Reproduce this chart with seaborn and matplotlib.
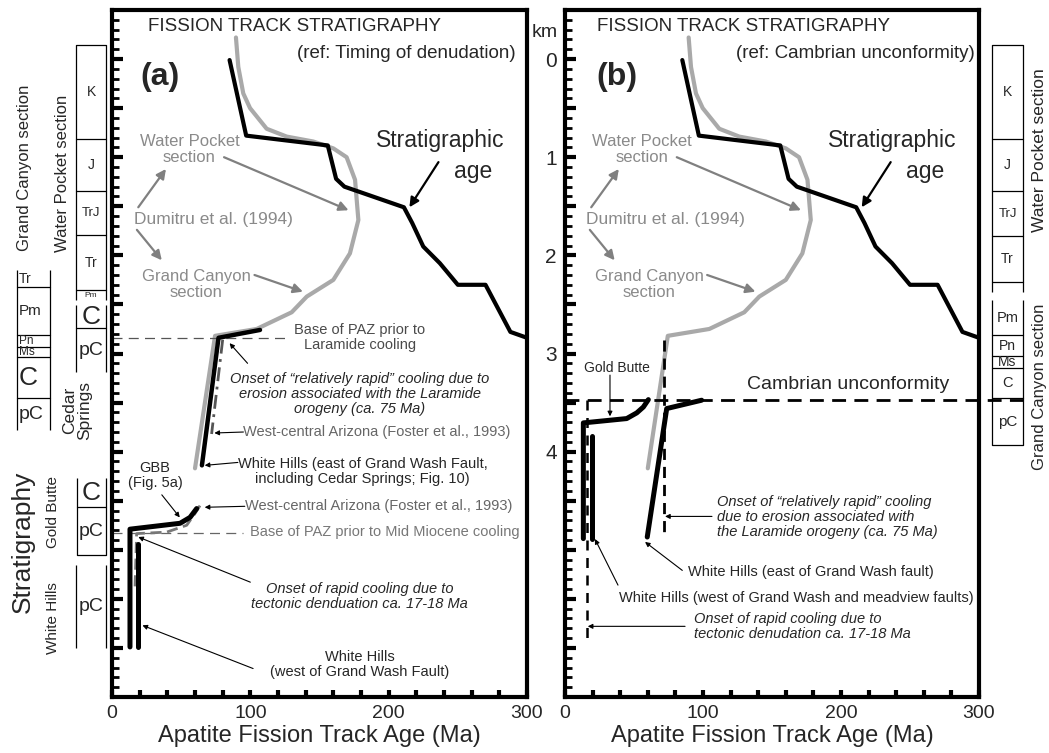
import numpy as np
import matplotlib
matplotlib.use("Agg")
import matplotlib.pyplot as plt
from matplotlib.transforms import blended_transform_factory
import seaborn as sns

# ---------------------------------------------------------------- data
# stratigraphic age of the section (Ma vs depth below top, km)
strat_age_ma = [85, 97, 156, 162, 168, 211, 217, 225, 237, 250, 270, 288, 300]
strat_age_km = [0.01, 0.78, 0.88, 1.22, 1.30, 1.51, 1.67, 1.91, 2.08, 2.30, 2.30, 2.78, 2.84]

# Dumitru et al. (1994): Water Pocket + Grand Canyon sections
dumitru_ma = [89.6, 91.3, 94.9, 99.8, 111.8, 126.3, 145.5, 160.0, 169.6, 175.7,
              178.1, 172.0, 160.0, 140.8, 129.9, 104.6, 74.5, 60.0]
dumitru_km = [-0.22, 0.08, 0.35, 0.50, 0.71, 0.79, 0.84, 0.91, 1.00, 1.23,
              1.64, 1.98, 2.25, 2.42, 2.58, 2.75, 2.82, 4.17]

# panel (a): referenced to timing of denudation
wh_east_a_ma = [107, 77, 65]
wh_east_a_km = [2.76, 2.84, 4.14]
foster_upper_ma = [80, 72]
foster_upper_km = [2.86, 3.82]
gbb_ma = [61.2, 56.4, 49.2, 13.0, 13.0]
gbb_km = [4.58, 4.67, 4.73, 4.79, 5.99]
wh_west_a_ma = [19, 19]
wh_west_a_km = [4.94, 5.99]
foster_lower_ma = [63.6, 60.0, 54.0, 39.5, 17.8, 16.6]
foster_lower_km = [4.55, 4.63, 4.75, 4.82, 4.835, 5.41]
paz_laramide_ma = [0, 129]
paz_laramide_km = [2.844, 2.844]
paz_miocene_ma = [0, 95]
paz_miocene_km = [4.825, 4.825]

# panel (b): referenced to the Cambrian unconformity
gold_butte_b_ma = [60.4, 56.8, 52.0, 44.7, 13.3, 13.3]
gold_butte_b_km = [3.47, 3.545, 3.605, 3.663, 3.707, 4.886]
wh_west_b_ma = [19.3, 19.3]
wh_west_b_km = [3.843, 4.886]
wh_east_b_ma = [99.0, 73.7, 59.6]
wh_east_b_km = [3.476, 3.561, 4.87]
laramide_onset_ma = [71.7, 71.7]
laramide_onset_km = [2.866, 4.835]
miocene_onset_ma = [15.7, 15.7]
miocene_onset_km = [3.47, 5.97]
cambrian_ma = [0, 332]
cambrian_km = [3.47, 3.47]

# stratigraphic columns: unit boundaries (km) and unit names
wp_left_bounds = [-0.143, 0.815, 1.346, 1.794, 2.355, 2.457]
wp_left_units = ["K", "J", "TrJ", "Tr", "Pm"]
gc_left_bounds = [2.151, 2.324, 2.813, 2.936, 3.038, 3.456, 3.782]
gc_left_units = ["Tr", "Pm", "Pn", "Ms", "C", "pC"]
cedar_bounds = [2.508, 2.742, 3.19]
cedar_units = ["C", "pC"]
gold_butte_bounds = [4.271, 4.567, 5.056]
gold_butte_units = ["C", "pC"]
white_hills_bounds = [5.158, 6.004]
white_hills_units = ["pC"]
wp_right_bounds = [-0.143, 0.815, 1.346, 1.804, 2.273, 2.375]
wp_right_units = ["K", "J", "TrJ", "Tr", ""]
gc_right_bounds = [2.457, 2.813, 3.027, 3.15, 3.456, 3.935]
gc_right_units = ["Pm", "Pn", "Ms", "C", "pC"]

x_ticklabels = ["0", "100", "200", "300"]
km_ticklabels = ["0", "1", "2", "3", "4"]

# ---------------------------------------------------------------- style
sns.set_theme(style="white")
plt.rcParams["font.family"] = ["Liberation Sans", "DejaVu Sans"]
NARROW = ["Liberation Sans Narrow", "Liberation Sans", "DejaVu Sans"]
GRAY_LINE = "#a9a9a9"
GRAY_TXT = "#8a8a8a"
DARK_TXT = "#4a4a4a"

fig = plt.figure(figsize=(10.49, 7.53), dpi=100)
ax_a = fig.add_axes([112 / 1049, 1 - 697 / 753, 415 / 1049, 687 / 753])
ax_b = fig.add_axes([565 / 1049, 1 - 697 / 753, 414 / 1049, 687 / 753])


def line(ax, x, y, color="black", lw=3.0, ls="-", **kw):
    sns.lineplot(x=x, y=y, ax=ax, color=color, linewidth=lw, linestyle=ls,
                 sort=False, estimator=None, legend=False, **kw)


def arrow(ax, tail, tip, color="black", lw=0.9, scale=9):
    ax.annotate("", xy=tip, xytext=tail,
                arrowprops=dict(arrowstyle="-|>", color=color, lw=lw,
                                mutation_scale=scale, shrinkA=0, shrinkB=0))


def column(ax, xa0, xa1, bounds, units, sizes, open_top=True, open_bottom=True,
           lab_x=None, ha="center"):
    tr = blended_transform_factory(ax.transAxes, ax.transData)
    top, bot = bounds[0], bounds[-1]
    for xa in (xa0, xa1):
        ax.plot([xa, xa], [top, bot], transform=tr, color="black", lw=0.9,
                clip_on=False, solid_capstyle="butt")
    inner = list(bounds[1:-1])
    if not open_top:
        inner.append(top)
    if not open_bottom:
        inner.append(bot)
    for yb in inner:
        ax.plot([xa0, xa1], [yb, yb], transform=tr, color="black", lw=0.9,
                clip_on=False)
    if lab_x is None:
        lab_x = 0.5 * (xa0 + xa1)
    for (y0, y1), name, fs in zip(zip(bounds[:-1], bounds[1:]), units, sizes):
        ax.text(lab_x, 0.5 * (y0 + y1), name, transform=tr, ha=ha,
                va="center", fontsize=fs, clip_on=False)


def frame(ax, labels_y):
    ax.set_xlim(0, 300)
    ax.set_ylim(6.5, -0.5)
    ax.set_xticks([0, 100, 200, 300])
    ax.set_xticklabels(x_ticklabels, fontsize=14)
    ax.set_xticks(np.arange(20, 300, 20), minor=True)
    ax.set_yticks(np.arange(0, 6.01, 0.5))
    ax.set_yticks(np.arange(-0.4, 6.45, 0.1), minor=True)
    if labels_y:
        lab = []
        for v in np.arange(0, 6.01, 0.5):
            is_int = v == int(v) and int(v) < len(km_ticklabels)
            lab.append(km_ticklabels[int(v)] if is_int else "")
        ax.set_yticklabels(lab, fontsize=15)
    else:
        ax.set_yticklabels([])
    ax.tick_params(axis="x", which="both", direction="in", length=5, width=3,
                   bottom=True, top=False, pad=6, color="black")
    ax.tick_params(axis="y", which="major", direction="in", length=8, width=3,
                   left=True, right=False, pad=6, color="black")
    ax.tick_params(axis="y", which="minor", direction="in", length=5, width=2,
                   left=True, right=False, color="black")
    for s in ax.spines.values():
        s.set_linewidth(3.0)
        s.set_color("black")
    ax.set_xlabel("Apatite Fission Track Age (Ma)", fontsize=17, labelpad=2)
    ax.set_ylabel("")
    ax.grid(False)


# ---------------------------------------------------------------- shared curves
for ax, tag, ref, title_x, ref_x, tag_x in (
        (ax_a, "(a)", "(ref: Timing of denudation)", 26, 292, 35),
        (ax_b, "(b)", "(ref: Cambrian unconformity)", 23, 297, 37.5)):
    line(ax, dumitru_ma, dumitru_km, color=GRAY_LINE, lw=3.0)
    line(ax, strat_age_ma, strat_age_km, color="black", lw=3.0)
    frame(ax, labels_y=(ax is ax_b))
    ax.text(title_x, -0.33, "FISSION TRACK STRATIGRAPHY",
            fontsize=13.5, va="center", ha="left")
    ax.text(ref_x, -0.06, ref, fontsize=13.5, va="center", ha="right")
    ax.text(tag_x, 0.18, tag, fontsize=23, fontweight="bold",
            ha="center", va="center")
    ax.text(237, 0.83, "Stratigraphic", fontsize=16.5, ha="center", va="center")
    ax.text(261, 1.15, "age", fontsize=16.5, ha="center", va="center")
    arrow(ax, (236, 1.05), (215, 1.51), lw=1.6, scale=14)
    ax.text(56, 0.92, "Water Pocket\nsection", fontsize=12, color=GRAY_TXT,
            ha="center", va="center", linespacing=1.1)
    ax.text(73, 1.63, "Dumitru et al. (1994)", fontsize=12.5, color=GRAY_TXT,
            ha="center", va="center")
    ax.text(61, 2.30, "Grand Canyon\nsection", fontsize=12, color=GRAY_TXT,
            ha="center", va="center", linespacing=1.1)
    arrow(ax, (19, 1.51), (39, 1.12), color="#808080", lw=1.6, scale=14)
    arrow(ax, (18, 1.74), (36, 2.05), color="#808080", lw=1.6, scale=14)
    arrow(ax, (81, 1.00), (171, 1.54), color="#808080", lw=1.6, scale=14)
    arrow(ax, (103, 2.20), (138, 2.37), color="#808080", lw=1.6, scale=14)

# ---------------------------------------------------------------- panel (a)
line(ax_a, paz_laramide_ma, paz_laramide_km, color="#555555", lw=0.9, ls=(0, (8, 5)))
line(ax_a, paz_miocene_ma, paz_miocene_km, color="#666666", lw=0.9, ls=(0, (8, 5)))
line(ax_a, foster_upper_ma, foster_upper_km, color="#555555", lw=2.0, ls=(0, (5, 2, 1, 2)))
line(ax_a, wh_east_a_ma, wh_east_a_km, color="black", lw=3.2)
line(ax_a, foster_lower_ma, foster_lower_km, color="#777777", lw=2.0, ls=(0, (4, 2)))
line(ax_a, gbb_ma, gbb_km, color="black", lw=3.6)
line(ax_a, wh_west_a_ma, wh_west_a_km, color="black", lw=3.6)

ax_a.text(179, 2.84, "Base of PAZ prior to\nLaramide cooling", fontsize=10.5,
          color=DARK_TXT, ha="center", va="center", linespacing=1.1)
arrow(ax_a, (98, 3.10), (85, 2.895), lw=0.8, scale=7)
ax_a.text(179, 3.415, "Onset of \u201crelatively rapid\u201d cooling due to\n"
          "erosion associated with the Laramide\norogeny (ca. 75 Ma)",
          fontsize=10.5, style="italic", ha="center", va="center", linespacing=1.1)
ax_a.text(95, 3.80, "West-central Arizona (Foster et al., 1993)", fontsize=10.5,
          color="#666666", ha="left", va="center")
arrow(ax_a, (95, 3.80), (74, 3.81), lw=0.8, scale=7)
ax_a.text(181, 4.20, "White Hills (east of Grand Wash Fault,\nincluding Cedar Springs; Fig. 10)",
          fontsize=10.5, ha="center", va="center", linespacing=1.1)
arrow(ax_a, (91, 4.11), (67, 4.14), lw=0.8, scale=7)
ax_a.text(31, 4.24, "GBB\n(Fig. 5a)", fontsize=10.5, ha="center", va="center",
          linespacing=1.1)
arrow(ax_a, (36, 4.44), (49, 4.67), lw=0.8, scale=7)
ax_a.text(96, 4.557, "West-central Arizona (Foster et al., 1993)", fontsize=10.5,
          color="#666666", ha="left", va="center")
arrow(ax_a, (96, 4.557), (67, 4.567), lw=0.8, scale=7)
ax_a.text(100, 4.82, "Base of PAZ prior to Mid Miocene cooling", fontsize=10.5,
          color="#777777", ha="left", va="center")
ax_a.text(179, 5.48, "Onset of rapid cooling due to\ntectonic denduation ca. 17-18 Ma",
          fontsize=10.5, style="italic", ha="center", va="center", linespacing=1.1)
arrow(ax_a, (100, 5.33), (19, 4.87), lw=0.8, scale=7)
ax_a.text(179, 6.17, "White Hills\n(west of Grand Wash Fault)", fontsize=10.5,
          ha="center", va="center", linespacing=1.1)
arrow(ax_a, (102, 6.21), (22, 5.77), lw=0.8, scale=7)

# left-hand stratigraphic columns
column(ax_a, -0.0867, -0.0145, wp_left_bounds, wp_left_units, [10, 10, 9.5, 10, 6],
       open_top=False, open_bottom=True)
column(ax_a, -0.229, -0.149, gc_left_bounds, gc_left_units, [10, 11, 8.5, 8.5, 19, 14],
       lab_x=-0.225, ha="left")
column(ax_a, -0.0867, -0.0145, cedar_bounds, cedar_units, [19, 14])
column(ax_a, -0.0843, -0.0145, gold_butte_bounds, gold_butte_units, [19, 14],
       open_top=True, open_bottom=False)
column(ax_a, -0.0867, -0.0145, white_hills_bounds, white_hills_units, [14])

tra = blended_transform_factory(ax_a.transAxes, ax_a.transData)
ax_a.text(-0.212, 1.11, "Grand Canyon section", transform=tra, rotation=90,
          fontsize=12, family=NARROW, ha="center", va="center")
ax_a.text(-0.120, 1.16, "Water Pocket section", transform=tra, rotation=90,
          fontsize=12, family=NARROW, ha="center", va="center")
ax_a.text(-0.084, 3.58, "Cedar\nSprings", transform=tra, rotation=90,
          fontsize=12.5, family=NARROW, ha="center", va="center", linespacing=1.0)
ax_a.text(-0.214, 4.92, "Stratigraphy", transform=tra, rotation=90,
          fontsize=19, family=NARROW, ha="center", va="center")
ax_a.text(-0.142, 4.62, "Gold Butte", transform=tra, rotation=90,
          fontsize=11, family=NARROW, ha="center", va="center")
ax_a.text(-0.142, 5.70, "White Hills", transform=tra, rotation=90,
          fontsize=11, family=NARROW, ha="center", va="center")

# ---------------------------------------------------------------- panel (b)
line(ax_b, cambrian_ma, cambrian_km, color="black", lw=2.0, ls=(0, (5, 3)),
     clip_on=False)
line(ax_b, laramide_onset_ma, laramide_onset_km, color="black", lw=2.0, ls=(0, (4, 2.5)))
line(ax_b, miocene_onset_ma, miocene_onset_km, color="black", lw=1.8, ls=(0, (4, 3)))
line(ax_b, gold_butte_b_ma, gold_butte_b_km, color="black", lw=3.6)
line(ax_b, wh_west_b_ma, wh_west_b_km, color="black", lw=3.6)
line(ax_b, wh_east_b_ma, wh_east_b_km, color="black", lw=3.6)

ax_b.text(37.7, 3.15, "Gold Butte", fontsize=10, ha="center", va="center")
arrow(ax_b, (32.6, 3.22), (32.6, 3.64), lw=0.8, scale=7)
ax_b.text(205, 3.32, "Cambrian unconformity", fontsize=14, ha="center", va="center")
ax_b.text(110, 4.67, "Onset of \u201crelatively rapid\u201d cooling\n"
          "due to erosion associated with\nthe Laramide orogeny (ca. 75 Ma)",
          fontsize=10.5, style="italic", ha="left", va="center", linespacing=1.1)
arrow(ax_b, (106.5, 4.66), (72.5, 4.66), lw=0.8, scale=7)
ax_b.text(89, 5.23, "White Hills (east of Grand Wash fault)", fontsize=10.5,
          ha="left", va="center")
arrow(ax_b, (85, 5.21), (58, 4.92), lw=0.8, scale=7)
ax_b.text(39, 5.49, "White Hills (west of Grand Wash and meadview faults)",
          fontsize=10.5, ha="left", va="center")
arrow(ax_b, (38.4, 5.36), (21.7, 4.89), lw=0.8, scale=7)
ax_b.text(93.5, 5.78, "Onset of rapid cooling due to\ntectonic denudation ca. 17-18 Ma",
          fontsize=10.5, style="italic", ha="left", va="center", linespacing=1.1)
arrow(ax_b, (87, 5.78), (16.5, 5.78), lw=0.8, scale=7)

trb = blended_transform_factory(ax_b.transAxes, ax_b.transData)
ax_b.text(-0.048, -0.275, "km", transform=trb, fontsize=14, ha="center", va="center")

column(ax_b, 1.0314, 1.1063, wp_right_bounds, wp_right_units, [10, 10, 9.5, 10, 8],
       open_top=False, open_bottom=True)
column(ax_b, 1.0314, 1.1063, gc_right_bounds, gc_right_units, [10.5, 10, 10, 10.5, 11],
       open_top=True, open_bottom=False)
ax_b.text(1.147, 0.93, "Water Pocket section", transform=trb, rotation=90,
          fontsize=12.5, ha="center", va="center")
ax_b.text(1.147, 3.34, "Grand Canyon section", transform=trb, rotation=90,
          fontsize=12, ha="center", va="center")

fig.savefig("out.png", dpi=100)
